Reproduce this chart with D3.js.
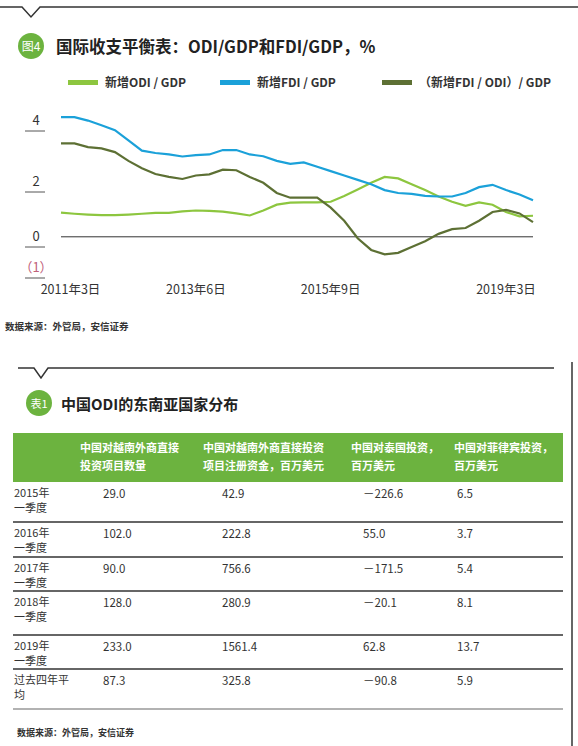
<!DOCTYPE html>
<html><head><meta charset="utf-8">
<script src="https://cdn.jsdelivr.net/npm/d3@7"></script>
<style>body{margin:0;background:#fff}svg{display:block;font-family:"Noto Sans CJK SC","Noto Sans",sans-serif}</style>
</head><body><svg id="c" width="578" height="746"></svg>
<script>
const seriesNames = ["新增ODI / GDP", "新增FDI / GDP", "（新增FDI / ODI）/ GDP"];
const seriesColors = ["#8dc63f", "#1ba1d9", "#5d7034"];
const odi = [0.83,0.79,0.76,0.74,0.74,0.76,0.79,0.82,0.82,0.87,0.9,0.89,0.86,0.8,0.73,0.9,1.1,1.17,1.18,1.18,1.2,1.4,1.62,1.85,2.05,2.0,1.8,1.6,1.38,1.2,1.06,1.18,1.1,0.85,0.7,0.72];
const fdi = [4.1,4.1,3.98,3.82,3.65,3.3,2.95,2.87,2.82,2.75,2.8,2.82,2.97,2.97,2.82,2.76,2.6,2.5,2.55,2.4,2.25,2.1,1.95,1.8,1.6,1.5,1.47,1.4,1.38,1.38,1.5,1.7,1.78,1.6,1.45,1.25];
const ratio = [3.2,3.2,3.07,3.03,2.9,2.6,2.35,2.15,2.05,1.98,2.1,2.14,2.3,2.28,2.05,1.85,1.5,1.34,1.34,1.34,1.0,0.55,-0.05,-0.45,-0.6,-0.55,-0.35,-0.15,0.1,0.26,0.3,0.55,0.85,0.92,0.8,0.5];
const xTickIdx = [1, 10, 20, 33];
const xTickLabels = ["2011年3日", "2013年6日", "2015年9日", "2019年3日"];
const yTicks = [4, 2, 0, -1];
const yTickLabels = ["4", "2", "0", "（1）"];
const tableHeaders = [["中国对越南外商直接","投资项目数量"],["中国对越南外商直接投资","项目注册资金，百万美元"],["中国对泰国投资，","百万美元"],["中国对菲律宾投资，","百万美元"]];
const rowLabels = [["2015年","一季度"],["2016年","一季度"],["2017年","一季度"],["2018年","一季度"],["2019年","一季度"],["过去四年平","均"]];
const col1 = ["29.0","102.0","90.0","128.0","233.0","87.3"];
const col2 = ["42.9","222.8","756.6","280.9","1561.4","325.8"];
const col3 = ["－226.6","55.0","－171.5","－20.1","62.8","－90.8"];
const col4 = ["6.5","3.7","5.4","8.1","13.7","5.9"];

const svg = d3.select("#c");
const G = "#6cb33f";
svg.append("path").attr("d","M0,7 L22,7 L31,17 L40,7 L578,7").attr("fill","none").attr("stroke","#333").attr("stroke-width",1.5);
svg.append("circle").attr("cx",31).attr("cy",46).attr("r",13).attr("fill",G);
svg.append("text").attr("x",31).attr("y",51).attr("text-anchor","middle").attr("fill","#fff").attr("font-size",12).text("图4");
svg.append("text").attr("x",56).attr("y",53).attr("font-size",16.5).attr("font-weight","bold").attr("fill","#222").text("国际收支平衡表：ODI/GDP和FDI/GDP，%");
const lx = [68, 220, 382];
seriesNames.forEach((n,i)=>{
  svg.append("rect").attr("x",lx[i]).attr("y",80).attr("width",30).attr("height",5).attr("fill",seriesColors[i]);
  svg.append("text").attr("x",lx[i]+37).attr("y",87).attr("font-size",12).attr("font-weight","bold").attr("fill","#333").text(n);
});
const x = d3.scaleLinear().domain([0, odi.length-1]).range([61,533]);
const y = d3.scaleLinear().domain([-1,4]).range([266,120]);
svg.append("line").attr("x1",61).attr("x2",533).attr("y1",y(0)).attr("y2",y(0)).attr("stroke","#333").attr("stroke-width",1);
const labY = {4:125,2:186,0:241,"-1":272};
yTicks.forEach((t,i)=>{
  svg.append("text").attr("x",36).attr("y",labY[t]).attr("text-anchor","middle").attr("font-size",13).attr("fill",t<0?"#c0607a":"#333").text(yTickLabels[i]);
  svg.append("line").attr("x1",25).attr("x2",45).attr("y1",labY[t]+6).attr("y2",labY[t]+6).attr("stroke","#555");
});
xTickIdx.forEach((d,i)=>{
  svg.append("text").attr("x",x(d)+ (i===0?-4:0)).attr("y",294).attr("text-anchor","middle").attr("font-size",12.5).attr("fill","#333").text(xTickLabels[i]);
});
const line = d3.line().x((d,i)=>x(i)).y(d=>y(d));
[odi,fdi,ratio].forEach((s,i)=>{
  svg.append("path").attr("d",line(s)).attr("fill","none").attr("stroke",seriesColors[i]).attr("stroke-width",2.2);
});
svg.append("text").attr("x",5).attr("y",330).attr("font-size",9.5).attr("font-weight","bold").attr("fill","#333").text("数据来源：外管局，安信证券");

svg.append("path").attr("d","M18,368 L34,368 L41,378 L48,368 L554,368").attr("fill","none").attr("stroke","#333").attr("stroke-width",1.5);
svg.append("line").attr("x1",572).attr("x2",572).attr("y1",362).attr("y2",746).attr("stroke","#333").attr("stroke-width",1.5);
svg.append("circle").attr("cx",39).attr("cy",403).attr("r",13).attr("fill",G);
svg.append("text").attr("x",39).attr("y",408).attr("text-anchor","middle").attr("fill","#fff").attr("font-size",11).text("表1");
svg.append("text").attr("x",61).attr("y",410).attr("font-size",15).attr("font-weight","bold").attr("fill","#222").text("中国ODI的东南亚国家分布");
svg.append("rect").attr("x",13).attr("y",433).attr("width",550).attr("height",49).attr("fill",G);
const hx = [80,203,351,454];
tableHeaders.forEach((h,i)=>h.forEach((t,j)=>{
  svg.append("text").attr("x",hx[i]).attr("y",452+j*18).attr("font-size",11).attr("font-weight","bold").attr("fill","#fff").text(t);
}));
const rowTop = [482,522,557,591,635,669];
const rowBot = [522,557,591,635,669,709];
const vx = [103,222,363,457];
rowLabels.forEach((r,i)=>{
  r.forEach((t,j)=>svg.append("text").attr("x",14).attr("y",rowTop[i]+15+j*15).attr("font-size",11).attr("fill","#333").text(t));
  [col1,col2,col3,col4].forEach((c,k)=>svg.append("text").attr("x",vx[k]).attr("y",rowTop[i]+16).attr("font-size",11.5).attr("fill","#333").text(c[i]));
  svg.append("line").attr("x1",13).attr("x2",563).attr("y1",rowBot[i]).attr("y2",rowBot[i]).attr("stroke","#666").attr("stroke-width",i===5?1.2:1.8);
});
svg.append("text").attr("x",17).attr("y",736).attr("font-size",9).attr("font-weight","bold").attr("fill","#333").text("数据来源：外管局，安信证券");
</script></body></html>
